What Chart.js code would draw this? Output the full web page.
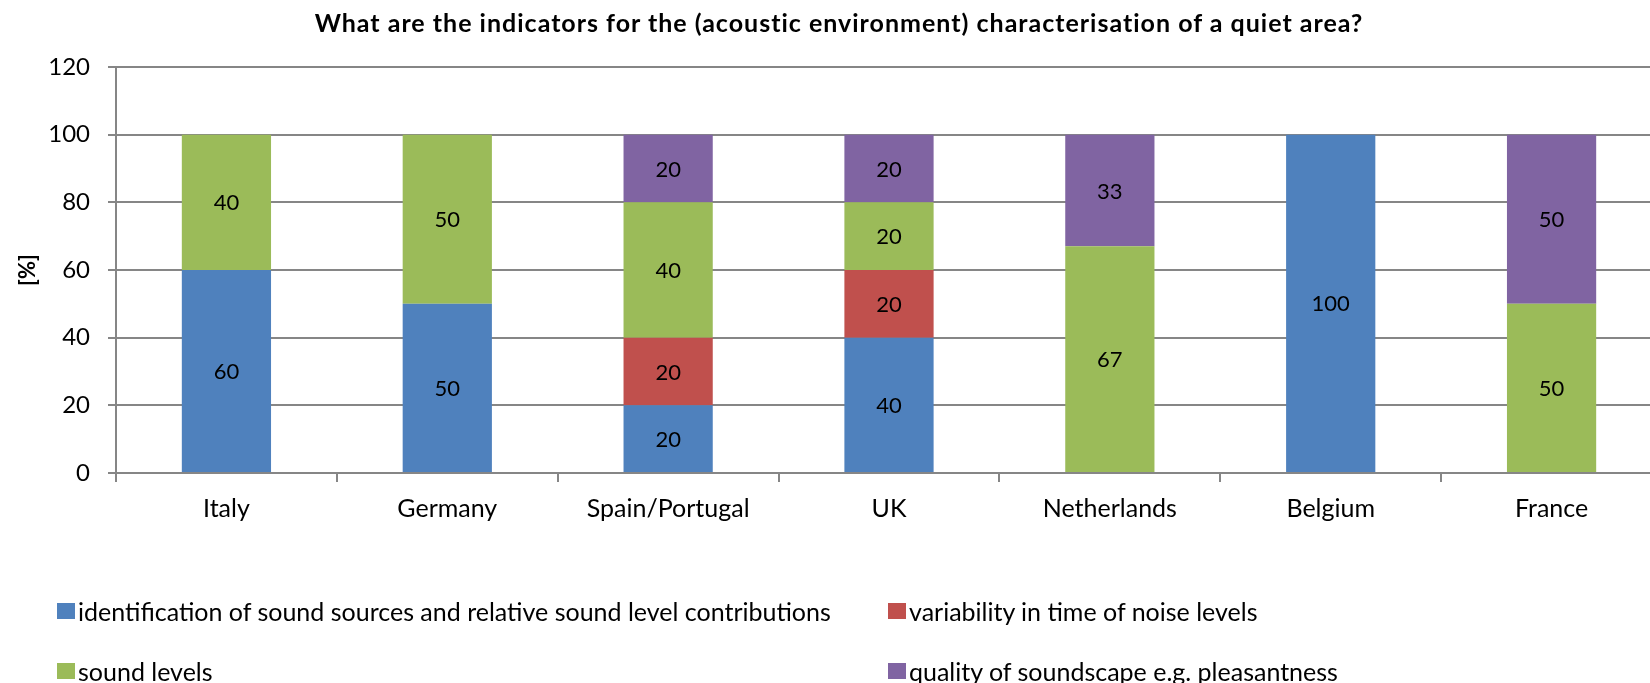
<!DOCTYPE html>
<html>
<head>
<meta charset="utf-8">
<script src="https://cdn.jsdelivr.net/npm/chart.js@4.4.1/dist/chart.umd.min.js"></script>
<style>
  html, body { margin: 0; padding: 0; background: #fff; overflow: hidden; }
  #wrap { position: relative; width: 1650px; height: 683px; overflow: hidden; font-family: Lato, sans-serif; color: #000; }
  #chart { position: absolute; left: 0; top: 0; }
  #title { position: absolute; top: 7px; left: 0; width: 1678px; text-align: center; font-weight: bold; font-size: 25px; letter-spacing: 1px; }
  .leg { position: absolute; display: flex; align-items: center; font-size: 25px; white-space: nowrap; }
  .leg span.box { display: inline-block; width: 18px; height: 16px; margin-right: 3px; }
</style>
</head>
<body>
<div id="wrap">
  <!-- 原图右侧被裁掉一截，所以画布比窗口略宽 -->
  <canvas id="chart" width="1670" height="683"></canvas>
  <div id="title">What are the indicators for the (acoustic environment) characterisation of a quiet area?</div>
  <div id="legend"></div>
</div>
<script>
// 图表数据
let categories = ["Italy", "Germany", "Spain/Portugal", "UK", "Netherlands", "Belgium", "France"];
let seriesNames = [
  "identification of sound sources and relative sound level contributions",
  "variability in time of noise levels",
  "sound levels",
  "quality of soundscape e.g. pleasantness",
];
let identification = [60, 50, 20, 40, 0, 100, 0];
let variability = [0, 0, 20, 20, 0, 0, 0];
let soundLevels = [40, 50, 40, 20, 67, 0, 50];
let quality = [0, 0, 20, 20, 33, 0, 50];
let yTicks = [0, 20, 40, 60, 80, 100, 120];

let colors = ["#4F81BD", "#C0504D", "#9BBB59", "#8064A2"];
let seriesValues = [identification, variability, soundLevels, quality];
let gridColor = "#868686";

// 在每个色块中间写数值
let valueLabels = {
  id: "valueLabels",
  afterDatasetsDraw(chart) {
    let ctx = chart.ctx;
    ctx.save();
    ctx.font = "22px Lato";
    ctx.fillStyle = "#000";
    ctx.textAlign = "center";
    ctx.textBaseline = "middle";
    chart.data.datasets.forEach((ds, i) => {
      chart.getDatasetMeta(i).data.forEach((bar, j) => {
        let v = ds.data[j];
        if (!v) return;
        ctx.fillText(String(v), bar.x, (bar.y + bar.base) / 2 + 1);
      });
    });
    ctx.restore();
  },
};

let chart = new Chart(document.getElementById("chart"), {
  type: "bar",
  data: {
    labels: categories,
    datasets: seriesNames.map((name, i) => ({
      label: name,
      data: seriesValues[i],
      backgroundColor: colors[i],
      borderWidth: 0,
      barPercentage: 1,
      categoryPercentage: 0.404,
    })),
  },
  options: {
    responsive: false,
    animation: false,
    layout: { padding: { top: 67, right: 8, bottom: 160, left: 0 } },
    plugins: {
      legend: { display: false },
      title: { display: false },
      tooltip: { enabled: false },
    },
    scales: {
      x: {
        stacked: true,
        afterFit: (s) => { s.height = 50; },
        grid: { offset: true, drawOnChartArea: false, color: gridColor, lineWidth: 2, tickLength: 9 },
        border: { color: gridColor, width: 2 },
        ticks: { color: "#000", font: { family: "Lato", size: 25 }, padding: 12 },
      },
      y: {
        stacked: true,
        min: 0,
        max: 120,
        afterFit: (s) => { s.width = 116; },
        afterBuildTicks: (s) => { s.ticks = yTicks.map((v) => ({ value: v })); },
        grid: { color: gridColor, lineWidth: 2, tickLength: 8 },
        border: { color: gridColor, width: 2 },
        ticks: { color: "#000", font: { family: "Lato", size: 24 }, padding: 18 },
        title: {
          display: true,
          text: "[%]",
          color: "#000",
          font: { family: "Lato", size: 22, weight: "bold" },
          padding: { top: 15, bottom: 0 },
        },
      },
    },
  },
  plugins: [valueLabels],
});

// 图例：两列两行
let legendPos = [[57, 611], [888, 611], [57, 671], [888, 671]];
let legendEl = document.getElementById("legend");
seriesNames.forEach((name, i) => {
  let item = document.createElement("div");
  item.className = "leg";
  item.style.left = legendPos[i][0] + "px";
  item.style.top = (legendPos[i][1] - 15) + "px";
  item.style.height = "30px";
  item.innerHTML = '<span class="box" style="background:' + colors[i] + '"></span>' + name;
  legendEl.appendChild(item);
});
</script>
</body>
</html>
